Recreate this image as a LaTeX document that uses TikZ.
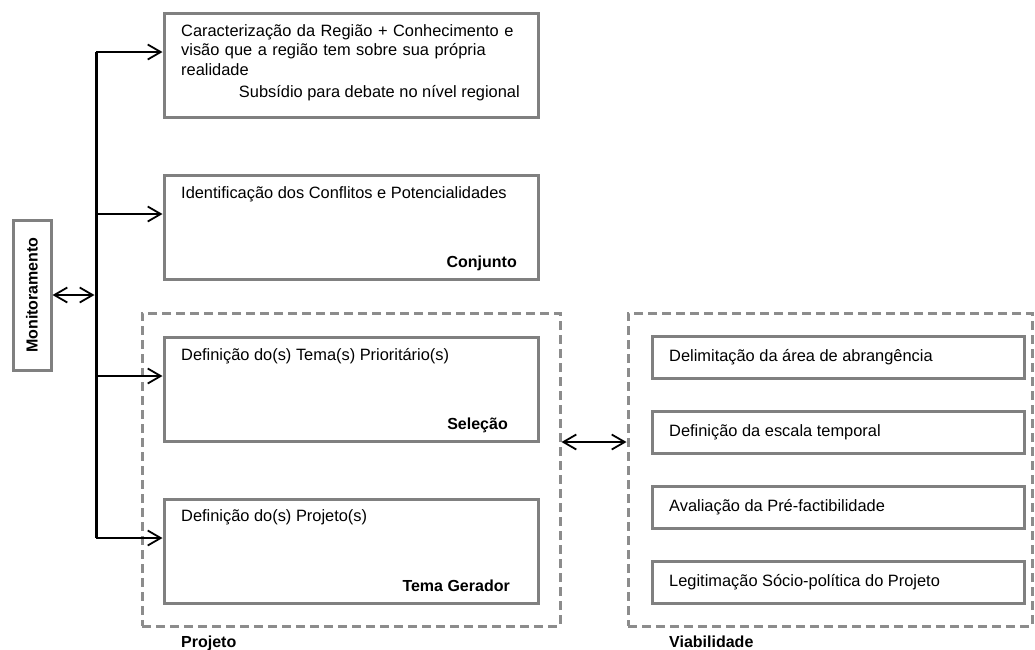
\documentclass[tikz,border=0pt]{standalone}
\usepackage{fontspec}
\setmainfont{Liberation Sans}
\usetikzlibrary{arrows.meta, calc}
\definecolor{boxgray}{HTML}{808080}
\definecolor{dashgray}{HTML}{8C8C8C}

\begin{document}
\begin{tikzpicture}[x=1pt, y=-1pt,
        caixa/.style={draw=boxgray, line width=3pt, inner sep=0pt, minimum width=374pt, minimum height=104pt},
        caixinha/.style={draw=boxgray, line width=3pt, inner sep=0pt, minimum width=372pt, minimum height=42pt},
        grupo/.style={draw=dashgray, line width=3pt, dash pattern=on 9pt off 5pt, inner sep=0pt},
        texto/.style={inner sep=0pt, anchor=base west, font=\fontsize{16.4}{19.5}\selectfont},
        rotulo/.style={inner sep=0pt, anchor=base east, font=\fontsize{16}{19.5}\selectfont\bfseries},
        seta/.style={line width=1.8pt, -{Straight Barb[length=13pt,width=15pt]}},
        setadupla/.style={line width=1.8pt, {Straight Barb[length=13pt,width=15pt]}-{Straight Barb[length=13pt,width=15pt]}}]
        \useasboundingbox (0,0) rectangle (1035,649);

        % grupos tracejados
        \node[grupo, minimum width=418pt, minimum height=313pt] (projeto) at (351,469.5) {};
        \node[grupo, minimum width=404pt, minimum height=313pt] (viab) at (830,469.5) {};
        \node[texto, font=\fontsize{16}{19.5}\selectfont\bfseries] (lprojeto) at (181,647) {Projeto};
        \node[texto, font=\fontsize{16}{19.5}\selectfont\bfseries] (lviab) at (669,647) {Viabilidade};

        % caixas da esquerda
        \node[caixa] (b1) at (351,65) {};
        \node[caixa] (b2) at (351,227) {};
        \node[caixa] (b3) at (351,389) {};
        \node[caixa] (b4) at (351,551) {};

        \node[texto, text width=360pt, align=left] (t1) at (181,36)
            {Caracterização da Região + Conhecimento e\\visão que a região tem sobre sua própria\\realidade};
        \node[texto, anchor=base east] (s1) at (520,97) {Subsídio para debate no nível regional};
        \node[texto] (t2) at (181,198) {Identificação dos Conflitos e Potencialidades};
        \node[rotulo] (s2) at (517,267) {Conjunto};
        \node[texto] (t3) at (181,360) {Definição do(s) Tema(s) Prioritário(s)};
        \node[rotulo] (s3) at (508,429) {Seleção};
        \node[texto] (t4) at (181,521) {Definição do(s) Projeto(s)};
        \node[rotulo] (s4) at (510,591) {Tema Gerador};

        % caixas da direita
        \node[caixinha] (d1) at (838,357) {};
        \node[caixinha] (d2) at (838,432) {};
        \node[caixinha] (d3) at (838,507) {};
        \node[caixinha] (d4) at (838,582) {};
        \node[texto] (u1) at (669,361) {Delimitação da área de abrangência};
        \node[texto] (u2) at (669,436) {Definição da escala temporal};
        \node[texto] (u3) at (669,511) {Avaliação da Pré-factibilidade};
        \node[texto] (u4) at (669,586) {Legitimação Sócio-política do Projeto};

        % monitoramento
        \node[draw=boxgray, line width=3pt, inner sep=0pt, rotate=90, minimum width=150pt, minimum height=38pt,
            font=\fontsize{16}{19.5}\selectfont\bfseries] (mon) at (32,295) {Monitoramento};

        % tronco e setas
        \coordinate (r1) at (96,52);
        \coordinate (r2) at (96,214);
        \coordinate (r3) at (96,376);
        \coordinate (r4) at (96,538);
        \coordinate (rm) at (96,295);
        \coordinate (meio) at (595,442);

        \draw[line width=3pt] (r1) -- (r4);
        \draw[seta] (r1) -- (r1 -| b1.west);
        \draw[seta] (r2) -- (r2 -| b2.west);
        \draw[seta] (r3) -- (r3 -| b3.west);
        \draw[seta] (r4) -- (r4 -| b4.west);
        \draw[setadupla] (mon.south) -- ([xshift=-1.5pt]rm);
        \draw[setadupla] (meio -| projeto.east) -- (meio -| viab.west);
\end{tikzpicture}
\end{document}
